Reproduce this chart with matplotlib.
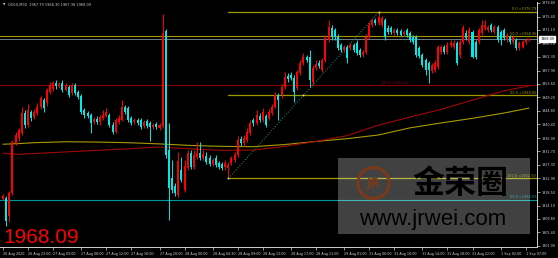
import matplotlib
matplotlib.use("Agg")
import matplotlib.pyplot as plt
import matplotlib.transforms as mtransforms
from matplotlib.patches import Rectangle, Circle

# ---------------- data ----------------
symbol = "GOLD,M30"
header_values = ["1967.79", "1968.30", "1967.38", "1968.09"]
current_price = 1968.09

opens = [1916.2, 1916.6, 1910.7, 1918.2, 1934.4, 1936.0, 1937.6, 1944.1, 1940.2, 1944.5,
         1942.8, 1944.1, 1946.1, 1948.3, 1947.4, 1950.9, 1951.9, 1953.9, 1952.9, 1953.9,
         1951.6, 1952.6, 1950.6, 1953.2, 1950.9, 1949.6, 1945.1, 1944.1, 1943.5, 1941.2,
         1942.2, 1941.2, 1942.5, 1943.2, 1943.5, 1940.2, 1938.0, 1941.2, 1941.9, 1946.1,
         1945.7, 1942.5, 1941.2, 1941.9, 1941.9, 1939.9, 1941.5, 1940.9, 1939.6, 1940.6,
         1939.3, 1939.9, 1970.7, 1932.1, 1923.0, 1920.5, 1917.5, 1925.6, 1919.2, 1926.3,
         1931.2, 1926.6, 1929.9, 1931.2, 1929.5, 1930.2, 1929.5, 1927.6, 1929.5, 1927.9,
         1927.6, 1926.6, 1926.3, 1927.9, 1928.9, 1930.5, 1935.7, 1934.4, 1935.4, 1937.6,
         1941.9, 1940.9, 1943.2, 1941.9, 1943.2, 1942.5, 1944.1, 1946.1, 1950.0, 1950.0,
         1952.6, 1956.1, 1956.4, 1955.5, 1952.2, 1957.1, 1960.3, 1962.3, 1962.3, 1954.2,
         1958.7, 1960.3, 1958.1, 1961.3, 1967.8, 1971.7, 1971.0, 1968.8, 1966.2, 1964.6,
         1965.5, 1965.2, 1966.2, 1966.8, 1964.6, 1962.9, 1963.9, 1968.8, 1972.7, 1974.3,
         1973.3, 1972.7, 1974.3, 1971.7, 1971.7, 1970.1, 1971.0, 1970.7, 1969.7, 1971.0,
         1970.1, 1968.8, 1968.8, 1965.2, 1962.9, 1961.3, 1960.3, 1957.7, 1958.1, 1959.0,
         1963.9, 1965.5, 1963.9, 1966.2, 1965.5, 1966.8, 1962.9, 1967.2, 1970.1, 1967.2,
         1970.4, 1967.2, 1967.2, 1970.1, 1971.7, 1971.0, 1972.7, 1970.4, 1972.0, 1970.4,
         1971.0, 1967.8, 1968.8, 1967.2, 1967.8, 1965.2, 1965.5, 1967.2, 1967.79]

highs = [1917.9, 1917.2, 1918.8, 1935.4, 1938.0, 1939.3, 1946.1, 1945.1, 1947.0, 1945.1,
         1945.4, 1947.4, 1949.6, 1949.0, 1952.2, 1954.2, 1954.5, 1954.8, 1954.2, 1954.8,
         1953.9, 1953.2, 1953.9, 1953.9, 1951.6, 1950.3, 1945.7, 1944.8, 1944.1, 1942.8,
         1943.2, 1943.5, 1945.1, 1945.7, 1944.1, 1941.2, 1942.5, 1943.5, 1948.3, 1946.7,
         1946.4, 1943.2, 1942.5, 1942.5, 1942.5, 1941.9, 1942.2, 1941.5, 1940.9, 1941.2,
         1940.9, 1976.2, 1971.4, 1940.9, 1928.9, 1921.4, 1931.5, 1929.9, 1928.9, 1932.1,
         1932.1, 1932.1, 1934.7, 1934.7, 1932.1, 1931.5, 1930.5, 1929.5, 1930.5, 1928.6,
         1928.2, 1928.9, 1928.2, 1930.2, 1931.5, 1936.7, 1936.7, 1937.0, 1939.3, 1941.9,
         1942.5, 1945.1, 1944.1, 1945.7, 1943.8, 1945.4, 1947.0, 1950.9, 1950.6, 1953.5,
         1957.4, 1957.1, 1957.4, 1956.4, 1958.1, 1961.3, 1963.6, 1962.9, 1964.6, 1959.7,
         1961.3, 1961.3, 1962.0, 1969.4, 1974.3, 1972.7, 1971.7, 1969.7, 1966.8, 1966.2,
         1966.2, 1966.8, 1966.8, 1967.8, 1965.2, 1964.6, 1969.7, 1973.6, 1974.9, 1974.9,
         1976.79, 1975.6, 1974.9, 1972.7, 1972.3, 1971.7, 1971.7, 1971.4, 1971.0, 1971.7,
         1970.7, 1969.4, 1969.4, 1965.9, 1963.6, 1962.0, 1961.0, 1960.3, 1961.3, 1966.2,
         1966.2, 1966.2, 1967.2, 1967.8, 1967.8, 1967.5, 1967.8, 1972.7, 1971.0, 1972.0,
         1971.0, 1967.8, 1971.7, 1974.3, 1974.3, 1972.7, 1973.3, 1972.7, 1972.7, 1971.0,
         1971.7, 1970.1, 1969.4, 1969.4, 1968.5, 1967.5, 1967.8, 1968.5, 1968.30]

lows = [1915.9, 1907.5, 1908.8, 1917.5, 1933.8, 1935.0, 1937.0, 1939.3, 1939.6, 1941.5,
        1942.2, 1943.5, 1945.4, 1944.5, 1946.4, 1950.3, 1951.3, 1951.9, 1952.2, 1950.9,
        1951.3, 1949.3, 1950.0, 1950.0, 1948.7, 1943.8, 1942.5, 1942.5, 1937.6, 1940.6,
        1940.6, 1940.2, 1941.9, 1942.8, 1939.6, 1937.3, 1937.8, 1940.6, 1941.5, 1943.8,
        1941.2, 1940.2, 1940.6, 1940.2, 1938.9, 1939.3, 1939.3, 1935.0, 1938.9, 1938.9,
        1938.6, 1939.3, 1929.5, 1909.4, 1918.2, 1917.2, 1916.9, 1921.7, 1918.5, 1925.6,
        1926.0, 1926.0, 1929.2, 1928.9, 1928.9, 1927.6, 1926.9, 1926.9, 1926.6, 1926.0,
        1925.6, 1925.6, 1922.9, 1927.3, 1928.2, 1929.9, 1933.4, 1933.4, 1934.7, 1937.0,
        1939.9, 1940.2, 1941.2, 1941.2, 1939.6, 1941.9, 1943.5, 1945.7, 1941.9, 1949.0,
        1951.9, 1954.2, 1954.8, 1947.7, 1951.6, 1956.4, 1959.7, 1960.7, 1952.6, 1953.2,
        1958.1, 1958.7, 1957.4, 1960.7, 1967.2, 1967.8, 1967.8, 1964.6, 1963.9, 1963.9,
        1960.3, 1964.6, 1963.9, 1962.9, 1962.3, 1962.3, 1963.3, 1968.1, 1972.0, 1972.7,
        1972.7, 1972.0, 1967.8, 1969.7, 1969.7, 1969.4, 1969.4, 1969.1, 1969.1, 1968.8,
        1967.2, 1966.5, 1962.3, 1962.0, 1959.0, 1956.4, 1953.9, 1957.1, 1957.4, 1958.4,
        1963.3, 1963.3, 1963.3, 1965.5, 1964.9, 1959.7, 1962.0, 1966.5, 1967.8, 1966.5,
        1962.0, 1961.6, 1966.5, 1969.4, 1971.0, 1970.4, 1970.4, 1969.7, 1967.2, 1966.2,
        1967.8, 1967.2, 1966.5, 1966.5, 1964.6, 1964.6, 1965.2, 1966.5, 1967.38]

closes = [1917.2, 1909.1, 1918.2, 1934.7, 1937.0, 1938.6, 1944.1, 1940.2, 1945.1, 1942.5,
          1944.5, 1946.1, 1949.0, 1945.7, 1951.6, 1953.2, 1953.9, 1952.9, 1953.5, 1951.6,
          1953.2, 1950.0, 1953.2, 1950.6, 1949.3, 1944.5, 1943.5, 1943.2, 1940.9, 1942.2,
          1941.2, 1942.8, 1943.5, 1944.5, 1940.2, 1938.0, 1941.9, 1942.5, 1946.1, 1944.5,
          1941.9, 1940.9, 1941.9, 1940.9, 1939.6, 1941.2, 1939.9, 1939.6, 1940.2, 1939.6,
          1940.2, 1970.1, 1930.5, 1919.8, 1919.2, 1918.2, 1928.6, 1922.4, 1926.9, 1931.2,
          1926.6, 1930.5, 1931.2, 1929.5, 1930.8, 1928.2, 1927.6, 1928.9, 1927.3, 1926.6,
          1926.3, 1927.9, 1927.3, 1929.5, 1930.5, 1935.4, 1934.4, 1936.0, 1938.0, 1940.9,
          1940.9, 1943.5, 1941.9, 1944.5, 1940.2, 1944.5, 1946.1, 1950.0, 1948.3, 1952.6,
          1955.8, 1955.2, 1955.5, 1950.9, 1957.4, 1960.3, 1962.3, 1961.3, 1954.8, 1958.7,
          1960.0, 1959.4, 1961.3, 1968.5, 1972.0, 1968.8, 1968.8, 1965.2, 1964.6, 1965.5,
          1962.0, 1966.2, 1964.6, 1963.6, 1962.9, 1963.9, 1968.8, 1972.7, 1974.3, 1973.3,
          1975.3, 1974.9, 1968.8, 1970.4, 1970.4, 1971.0, 1970.1, 1969.4, 1970.4, 1969.4,
          1967.8, 1967.2, 1962.9, 1962.6, 1959.7, 1958.1, 1958.1, 1959.7, 1960.3, 1965.5,
          1965.5, 1963.9, 1966.2, 1966.8, 1966.8, 1960.3, 1967.2, 1971.7, 1968.5, 1971.0,
          1962.3, 1962.3, 1971.0, 1972.7, 1972.7, 1972.0, 1971.0, 1972.0, 1967.8, 1967.8,
          1968.5, 1969.4, 1967.2, 1968.8, 1965.2, 1966.8, 1967.2, 1967.8, 1968.09]

ma_bars = [0, 5, 10, 20, 30, 40, 50, 60, 70, 80, 90, 100, 110, 120, 130, 140, 150, 160, 168]
ma_slow = [1934.0, 1934.2, 1934.5, 1934.8, 1934.7, 1934.5, 1934.1, 1933.6, 1933.3, 1933.2,
           1933.9, 1934.9, 1935.8, 1937.0, 1939.3, 1940.9, 1942.4, 1944.1, 1945.7]
ma_fast = [1931.1, 1930.7, 1931.0, 1931.5, 1932.0, 1932.5, 1933.1, 1932.5, 1932.0, 1932.1,
           1933.3, 1934.9, 1936.8, 1940.2, 1942.8, 1945.3, 1948.3, 1951.3, 1952.9]

fib_start_bar = 72
fib_end_bar = 120
fib_prices = [1976.79, 1949.85, 1922.90]
fib_labels = ["0.0 =1976.79", "50.0 =1949.85", "100.0 =1922.90"]

hline_prices = [1968.95, 1953.11, 1916.03]
hline_labels = ["50.0 =1968.95", "50.0 =1953.11", "50.0 =1916.03"]

price_ticks = [1979.80, 1975.40, 1971.10, 1966.70, 1962.30, 1957.90, 1953.60, 1949.20,
               1944.80, 1940.40, 1936.00, 1931.70, 1927.30, 1922.90, 1918.50, 1914.10,
               1909.80, 1905.40, 1901.00]

time_tick_bars = [0, 8, 16, 25, 33, 41, 50, 58, 67, 75, 83, 92, 100, 109, 117, 125, 134,
                  142, 150, 159, 167]
time_tick_labels = ["26 Aug 2020", "26 Aug 23:00", "27 Aug 03:00", "27 Aug 08:00",
                    "27 Aug 12:00", "27 Aug 16:00", "27 Aug 20:00", "28 Aug 00:00",
                    "28 Aug 04:30", "28 Aug 09:00", "28 Aug 13:00", "28 Aug 17:00",
                    "28 Aug 21:00", "29 Aug 01:00", "31 Aug 06:00", "31 Aug 10:00",
                    "31 Aug 14:00", "31 Aug 18:00", "31 Aug 22:00", "1 Sep 02:00",
                    "1 Sep 07:00"]

watermark_cn = "金荣圈"
watermark_url = "www.jrwei.com"

# ---------------- styles ----------------
BG = "#000000"
UP = "#ff0000"
DOWN = "#00e8e8"
FIB = "#a09a00"
MA_SLOW_C = "#a89a00"
MA_FAST_C = "#a00808"
AXC = "#d0d0d0"
hline_colors = [FIB, "#8b0000", "#009a9a"]

W, H = 558, 258
fig = plt.figure(figsize=(W / 100, H / 100), dpi=100, facecolor=BG)
# plot area: x 0..537 px, y 2..247 px (from top)
ax = fig.add_axes([0, 11 / H, 537 / W, 245 / H], facecolor=BG)

x0_px, step_px = 3.0, 3.13
ax.set_xlim((0 - x0_px) / step_px, (537 - x0_px) / step_px)
ax.set_ylim(1900.67, 1980.12)

n = len(closes)
xs = list(range(n))
cols = [UP if c >= o else DOWN for o, c in zip(opens, closes)]

# wicks & bodies
ax.vlines(xs, lows, highs, colors=cols, linewidth=0.7, zorder=3)
bottoms = [min(o, c) for o, c in zip(opens, closes)]
heights = [max(abs(c - o), 0.15) for o, c in zip(opens, closes)]
ax.bar(xs, heights, bottom=bottoms, width=0.64, color=cols, linewidth=0, zorder=4)

# moving averages
ax.plot(ma_bars, ma_slow, color=MA_SLOW_C, lw=0.8, zorder=2)
ax.plot(ma_bars, ma_fast, color=MA_FAST_C, lw=0.8, zorder=2)

xmax = ax.get_xlim()[1]
lab_fs = 2.5

# full-width horizontal lines
for p, c in zip(hline_prices, hline_colors):
    ax.axhline(p, color=c, lw=0.8, zorder=1)
for p, lab, c in [(hline_prices[0], hline_labels[0], hline_colors[0]),
                  (hline_prices[2], hline_labels[2], hline_colors[2])]:
    ax.text(xmax - 0.3, p + 0.25, lab, color=c, fontsize=lab_fs, ha="right", va="bottom")
ax.text(121, hline_prices[1] + 0.25, hline_labels[1], color=hline_colors[1],
        fontsize=lab_fs, ha="left", va="bottom")

# current price line
ax.axhline(current_price, color="#8090a0", lw=0.6, zorder=1)

# fibonacci levels
for p, lab in zip(fib_prices, fib_labels):
    ax.plot([fib_start_bar, xmax], [p, p], color=FIB, lw=0.9, zorder=1)
    ax.text(xmax - 0.3, p + 0.25, lab, color=FIB, fontsize=lab_fs, ha="right", va="bottom")
ax.plot([fib_start_bar, fib_end_bar], [fib_prices[2], fib_prices[0]], color="#1f7a5a",
        lw=0.8, ls=(0, (1, 1.5)), zorder=2)
ax.plot([fib_start_bar, fib_end_bar, (fib_start_bar + fib_end_bar) / 2],
        [fib_prices[2], fib_prices[0], fib_prices[1]], ls="none", marker="s", ms=1.2,
        mfc="#e0e8a0", mec="none", zorder=5)

# axes styling
for s in ["left", "top"]:
    ax.spines[s].set_visible(False)
for s in ["right", "bottom"]:
    ax.spines[s].set_color(AXC)
    ax.spines[s].set_linewidth(0.7)
ax.yaxis.tick_right()
ax.set_yticks(price_ticks)
ax.set_yticklabels([f"{v:.2f}" for v in price_ticks])
ax.tick_params(axis="y", colors=AXC, labelsize=2.4, length=2, width=0.5, pad=1.2,
               labelcolor=AXC)
ax.set_xticks(time_tick_bars)
ax.set_xticklabels(time_tick_labels)
ax.tick_params(axis="x", colors=AXC, labelsize=2.4, length=2.5, width=0.5, pad=0.8,
               labelcolor=AXC)
for t in ax.get_xticklabels():
    t.set_ha("left")

# current price box on axis
blend = mtransforms.blended_transform_factory(ax.transAxes, ax.transData)
ax.text(1.006, current_price, f"{current_price:.2f}", transform=blend, fontsize=2.4,
        color="black", ha="left", va="center", zorder=10, clip_on=False,
        bbox=dict(boxstyle="square,pad=0.35", fc="white", ec="white"))

# overlay axes in pixel coordinates (origin top-left) for texts and watermark
ov = fig.add_axes([0, 0, 1, 1])
ov.set_xlim(0, W)
ov.set_ylim(H, 0)
ov.axis("off")
ov.patch.set_alpha(0)

# header text
ov.text(3, 5, "\u25bc", color=AXC, fontsize=2.2, ha="left", va="center")
ov.text(8, 5, symbol + "  " + " ".join(header_values), color=AXC,
        fontsize=2.5, ha="left", va="center")

# big price text
ov.text(3, 243, f"{current_price:.2f}", color="#ff0000", fontsize=15,
        family="Liberation Sans", ha="left", va="baseline")

# watermark
ov.add_patch(Rectangle((338, 158), 192, 76, facecolor="#ffffff", alpha=0.26,
                       edgecolor="none", zorder=1))
ov.add_patch(Circle((373.5, 183), 15.5, facecolor="none", edgecolor="#7a3a18",
                    linewidth=2.2, zorder=2))
ov.text(373.5, 183, "JR", color="#7a3a18", fontsize=9, fontweight="bold",
        ha="center", va="center", zorder=3)
ov.text(460, 184, watermark_cn, color="#000000", alpha=1.0, fontsize=23,
        family=["Noto Sans CJK SC", "DejaVu Sans"], fontweight="bold",
        ha="center", va="center", zorder=3)
ov.text(433, 219, watermark_url, color="#000000", alpha=1.0, fontsize=16,
        family="Liberation Sans", ha="center", va="center", zorder=3)

fig.savefig("out.png", dpi=100, facecolor=BG)
